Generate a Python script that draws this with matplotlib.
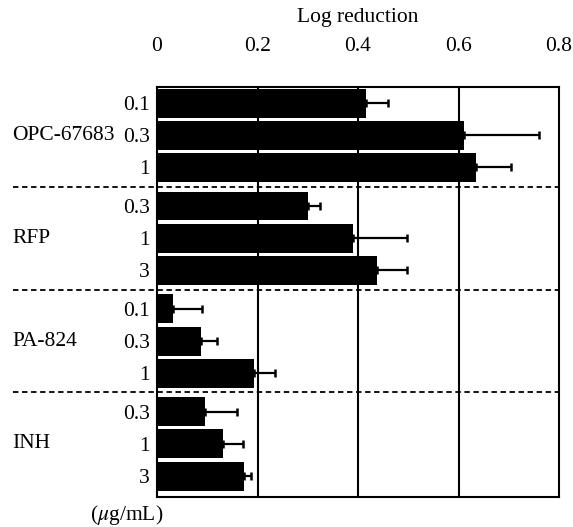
import matplotlib
matplotlib.use("Agg")
import matplotlib.pyplot as plt
import numpy as np

plt.rcParams['font.family'] = ['Liberation Serif', 'DejaVu Serif']
plt.rcParams['mathtext.fontset'] = 'stix'

drugs = ['OPC-67683', 'RFP', 'PA-824', 'INH']
doses = [['0.1', '0.3', '1'], ['0.3', '1', '3'], ['0.1', '0.3', '1'], ['0.3', '1', '3']]
log_red = [[0.415, 0.61, 0.635], [0.30, 0.39, 0.437], [0.032, 0.088, 0.194], [0.096, 0.132, 0.174]]
err = [[0.045, 0.15, 0.07], [0.025, 0.107, 0.06], [0.058, 0.032, 0.041], [0.064, 0.04, 0.013]]

fig = plt.figure(figsize=(5.73, 5.27), dpi=100)
ax = fig.add_axes([157 / 573, 30 / 527, 402 / 573, 410 / 527])

group_step = 3.2
ys, vals, errs, labs = [], [], [], []
for g in range(len(drugs)):
    for k in range(3):
        ys.append(g * group_step + k)
        vals.append(log_red[g][k])
        errs.append(err[g][k])
        labs.append(doses[g][k])
ys = np.array(ys)

ax.barh(ys, vals, height=0.9, color='black', zorder=3)
ax.errorbar(vals, ys, xerr=[np.zeros(len(errs)), errs], fmt='none',
            ecolor='black', elinewidth=1.6, capsize=2.8, capthick=1.8, zorder=4)

ax.set_xlim(0, 0.8)
ax.set_ylim(ys[-1] + 0.65, ys[0] - 0.5)
ax.set_xticks([0, 0.2, 0.4, 0.6, 0.8])
ax.set_xticklabels(['0', '0.2', '0.4', '0.6', '0.8'], fontsize=15.5)
ax.xaxis.tick_top()
ax.xaxis.set_label_position('top')
ax.tick_params(axis='x', length=0, pad=22)
ax.set_xlabel('Log reduction', fontsize=15.5, labelpad=11)
for xv in [0.2, 0.4, 0.6]:
    ax.axvline(xv, color='black', lw=1.5, zorder=1)
for s in ax.spines.values():
    s.set_linewidth(1.5)

ax.set_yticks(ys)
ax.set_yticklabels(labs, fontsize=15.5)
ax.tick_params(axis='y', length=0, pad=5)

# group names and dashed separators
for g, name in enumerate(drugs):
    yc = g * group_step + 1
    ax.text(-145 / 402, yc, name, fontsize=15.5, ha='left', va='center',
            transform=ax.get_yaxis_transform(), clip_on=False)
    if g > 0:
        yd = g * group_step - 0.6
        ax.plot([-144 / 402, 1], [yd, yd], transform=ax.get_yaxis_transform(),
                color='black', ls=(0, (3, 2)), lw=1.3, clip_on=False, zorder=5)

fig.text(90 / 573, 1 - 515 / 527, '($\\mu$g/mL)', fontsize=15.5, ha='left', va='center')

fig.savefig('out.png', dpi=100)
